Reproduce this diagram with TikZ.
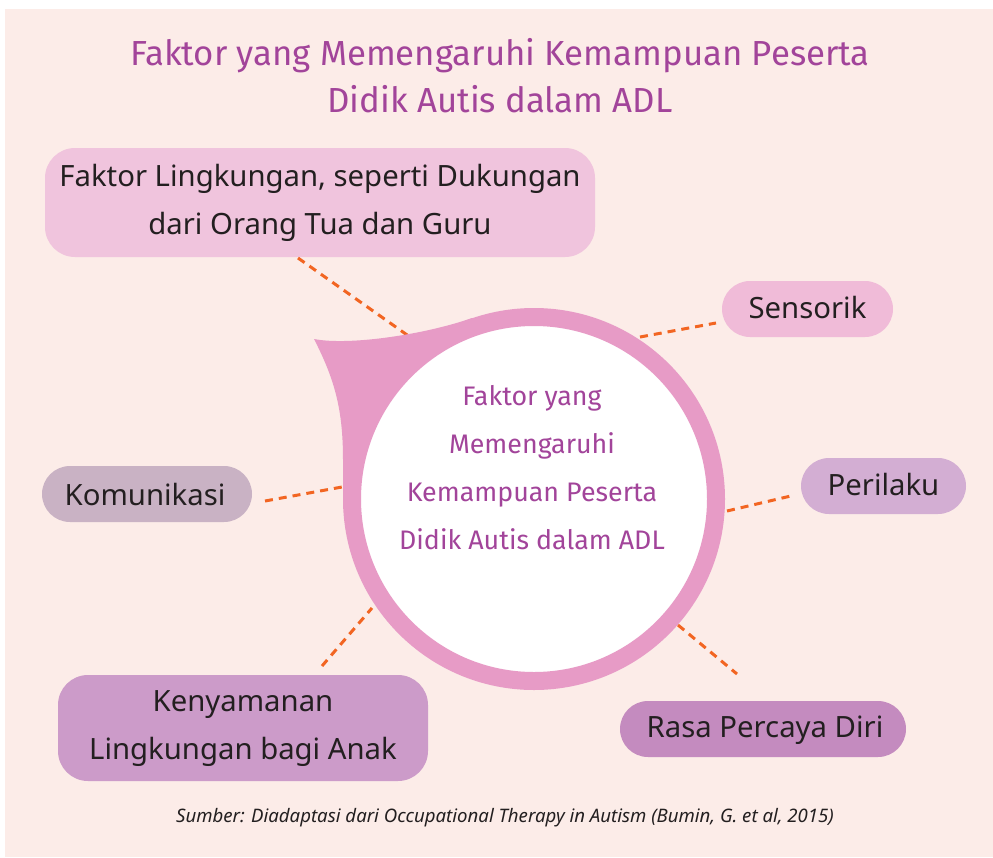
\documentclass[tikz,border=0pt]{standalone}
\usepackage{fontspec}
\setmainfont{Noto Sans}
\newfontfamily\firafont{Fira Sans}
\definecolor{bgc}{HTML}{FCECE8}
\definecolor{ringc}{HTML}{E79BC6}
\definecolor{boxa}{HTML}{F0C4DD}
\definecolor{boxsens}{HTML}{F0BBD8}
\definecolor{boxper}{HTML}{D3AED3}
\definecolor{boxkom}{HTML}{C9B2C4}
\definecolor{boxken}{HTML}{CC9BC9}
\definecolor{boxras}{HTML}{C48BBF}
\definecolor{titlec}{HTML}{A2449A}
\definecolor{textc}{HTML}{231F20}
\definecolor{dashc}{HTML}{F26522}
\begin{document}
\begin{tikzpicture}[x=1pt,y=-1pt,
  factorbox/.style={inner sep=0pt, outer sep=0pt, align=center, text=textc,
    font=\fontsize{29.3}{48}\selectfont},
  link/.style={draw=dashc, line width=3pt, dash pattern=on 8pt off 6pt}]
\useasboundingbox (0,0) rectangle (993,857);
\fill[white] (0,0) rectangle (993,857);
\fill[bgc] (5,9) rectangle (993,857);

% title
\node[font=\firafont\fontsize{34.8}{47}\selectfont, text=titlec, align=center] (title) at (500,76)
  {Faktor yang Memengaruhi Kemampuan Peserta\\Didik Autis dalam ADL};

% boxes
\fill[boxa, rounded corners=30pt] (45,148) rectangle (595,257);
\node[factorbox] (lingk) at (320,203) {Faktor Lingkungan, seperti Dukungan\\dari Orang Tua dan Guru};
\fill[boxsens, rounded corners=28pt] (722,281) rectangle (893,337);
\node[factorbox] (sens) at (807.5,308) {Sensorik};
\fill[boxper, rounded corners=28pt] (801,458) rectangle (966,514);
\node[factorbox] (peri) at (883.5,485) {Perilaku};
\fill[boxkom, rounded corners=28pt] (42,466) rectangle (252,522);
\node[factorbox] (komu) at (145,495) {Komunikasi};
\fill[boxken, rounded corners=30pt] (58,675) rectangle (428,781);
\node[factorbox] (keny) at (243,729) {Kenyamanan\\Lingkungan bagi Anak};
\fill[boxras, rounded corners=28pt] (620,701) rectangle (906,757);
\node[factorbox] (rasa) at (765,730) {Rasa Percaya Diri};

% dashed connectors
\coordinate (l1a) at (298,258); \coordinate (l1b) at (410,337);
\coordinate (l2a) at (640,337); \coordinate (l2b) at (716,323);
\coordinate (l3a) at (727,511); \coordinate (l3b) at (795,495);
\coordinate (l4a) at (265,501); \coordinate (l4b) at (342,487);
\coordinate (l5a) at (322,666); \coordinate (l5b) at (372,608);
\coordinate (l6a) at (678,625); \coordinate (l6b) at (737,674);
\draw[link] (l1a) -- (l1b);
\draw[link] (l2a) -- (l2b);
\draw[link] (l3a) -- (l3b);
\draw[link] (l4a) -- (l4b);
\draw[link] (l5a) -- (l5b);
\draw[link] (l6a) -- (l6b);

% tail of the bubble
\fill[ringc] (314,339) .. controls (350,346) and (427,334) .. (472,318)
  -- (534,499) -- (343,499) -- (343,460)
  .. controls (343,410) and (335,380) .. (314,339) -- cycle;
% hub
\node[circle, fill=white, draw=ringc, line width=18pt, minimum size=364pt,
  inner sep=0pt, outer sep=0pt] (hub) at (534,499) {};
\node[font=\firafont\fontsize{26.8}{48}\selectfont, text=titlec, align=center] (hubtext) at (532,468)
  {Faktor yang\\Memengaruhi\\Kemampuan Peserta\\Didik Autis dalam ADL};

% source
\node[font=\itshape\fontsize{18.6}{22}\selectfont, text=textc] (src) at (505,818)
  {Sumber: Diadaptasi dari Occupational Therapy in Autism (Bumin, G. et al, 2015)};
\end{tikzpicture}
\end{document}
